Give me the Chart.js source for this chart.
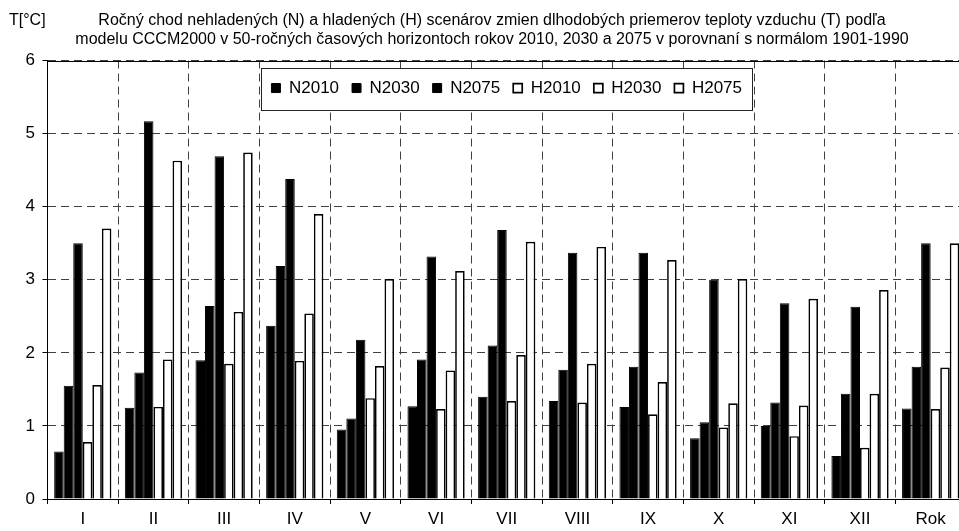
<!DOCTYPE html>
<html>
<head>
<meta charset="utf-8">
<script src="https://cdn.jsdelivr.net/npm/chart.js@4/dist/chart.umd.min.js"></script>
<style>
  html, body { margin: 0; padding: 0; background: #fff; overflow: hidden; }
  #wrap { width: 959px; height: 531px; overflow: hidden; position: relative; }
  canvas { display: block; }
</style>
</head>
<body>
<div id="wrap"><canvas id="c" width="966" height="531"></canvas></div>
<script>
const categories = ['I','II','III','IV','V','VI','VII','VIII','IX','X','XI','XII','Rok'];
const seriesNames = ['N2010','N2030','N2075','H2010','H2030','H2075'];
const N2010 = [0.65,1.25,1.90,2.37,0.95,1.27,1.40,1.34,1.26,0.83,1.00,0.59,1.24];
const N2030 = [1.55,1.73,2.64,3.19,1.10,1.91,2.10,1.77,1.81,1.05,1.32,1.44,1.81];
const N2075 = [3.50,5.17,4.69,4.38,2.18,3.32,3.68,3.37,3.37,3.00,2.68,2.63,3.50];
const H2010 = [0.78,1.26,1.85,1.89,1.38,1.23,1.34,1.32,1.16,0.98,0.86,0.70,1.23];
const H2030 = [1.56,1.91,2.56,2.54,1.82,1.76,1.97,1.85,1.60,1.31,1.28,1.44,1.80];
const H2075 = [3.70,4.63,4.74,3.90,3.01,3.12,3.52,3.45,3.27,3.01,2.74,2.86,3.50];
const yTicks = [0,1,2,3,4,5,6];
const titleLines = [
  'Ročný chod nehladených (N) a hladených (H) scenárov zmien dlhodobých priemerov teploty vzduchu (T) podľa',
  'modelu CCCM2000 v 50-ročných časových horizontoch rokov 2010, 2030 a 2075 v porovnaní s normálom 1901-1990'
];
const yUnit = 'T[°C]';

const FONT = '"Liberation Sans", Arial, sans-serif';
const seriesData = [N2010, N2030, N2075, H2010, H2030, H2075];
const datasets = seriesNames.map((name, i) => {
  const filled = name.charAt(0) === 'N';
  return {
    label: name,
    data: seriesData[i],
    backgroundColor: filled ? '#000000' : '#ffffff',
    borderColor: '#000000',
    borderWidth: filled ? 1 : 1.7,
    borderSkipped: 'start',
    categoryPercentage: 0.81,
    barPercentage: 1.0
  };
});

const legendFrame = {
  id: 'legendFrame',
  afterLayout(chart) {
    const lg = chart.legend;
    if (lg) { lg.height = 70; lg.bottom = lg.top + 70; }
  },
  beforeDatasetsDraw(chart) {
    const lg = chart.legend;
    if (!lg || !lg.legendHitBoxes || !lg.legendHitBoxes.length) return;
    const hb = lg.legendHitBoxes;
    let l = Infinity, r = -Infinity, t = Infinity, b = -Infinity;
    hb.forEach(h => { l = Math.min(l, h.left); r = Math.max(r, h.left + h.width); t = Math.min(t, h.top); b = Math.max(b, h.top + h.height); });
    const ctx = chart.ctx;
    ctx.save();
    const x0 = Math.round(l - 10) + 0.5, x1 = Math.round(r + 10) + 0.5;
    const y0 = Math.round(t - 11.5) + 0.5, y1 = Math.round(b + 13.5) + 0.5;
    ctx.fillStyle = '#ffffff';
    ctx.fillRect(x0, y0, x1 - x0, y1 - y0);
    ctx.strokeStyle = '#222222';
    ctx.lineWidth = 1;
    ctx.strokeRect(x0, y0, x1 - x0, y1 - y0);
    ctx.restore();
    lg.draw();
  },
  afterDraw(chart) {
    const ctx = chart.ctx;
    const ca = chart.chartArea;
    ctx.save();
    ctx.strokeStyle = '#000';
    ctx.lineWidth = 1;
    ctx.beginPath();
    ctx.moveTo(ca.left, Math.round(ca.top) + 0.5);
    ctx.lineTo(ca.right, Math.round(ca.top) + 0.5);
    ctx.stroke();
    ctx.fillStyle = '#000';
    ctx.font = '16px ' + FONT;
    ctx.textBaseline = 'middle';
    ctx.textAlign = 'left';
    const t = chart.titleBlock;
    const lh = t ? t.options.font.size * t.options.font.lineHeight : 19.5;
    const y = t ? t.top + t.options.padding.top + lh / 2 : 20;
    ctx.fillText(yUnit, 9, y);
    ctx.restore();
  }
};

new Chart(document.getElementById('c'), {
  type: 'bar',
  data: { labels: categories, datasets },
  options: {
    responsive: false,
    animation: false,
    devicePixelRatio: 1,
    layout: { padding: { left: 18, right: 0, top: 0, bottom: 0 } },
    plugins: {
      title: {
        display: true,
        text: titleLines,
        color: '#000',
        font: { family: FONT, size: 16, weight: 'normal', lineHeight: 1.22 },
        padding: { top: 10.7, bottom: 9.8 }
      },
      legend: {
        display: true,
        position: 'top',
        align: 'center',
        fullSize: false,
        maxHeight: 1,
        title: { display: true, text: '', font: { family: FONT, size: 7, lineHeight: 1 }, padding: 0 },
        labels: {
          color: '#000',
          font: { family: FONT, size: 17 },
          boxWidth: 9,
          boxHeight: 9,
          padding: 13
        }
      },
      tooltip: { enabled: false }
    },
    scales: {
      x: {
        offset: true,
        afterFit(scale) { scale.height = 32; },
        grid: {
          display: true,
          offset: true,
          color: '#404040',
          lineWidth: 1,
          drawTicks: true,
          tickLength: 5,
          tickColor: '#000'
        },
        border: { display: true, color: '#000', width: 1, dash: [8, 5] },
        ticks: { color: '#000', font: { family: FONT, size: 17 }, padding: 5.5, maxRotation: 0, autoSkip: false }
      },
      y: {
        min: 0,
        max: 6,
        afterBuildTicks(scale) { scale.ticks = yTicks.map(v => ({ value: v })); },
        grid: {
          color: '#404040',
          lineWidth: 1,
          drawTicks: true,
          tickLength: 5,
          tickColor: '#000'
        },
        border: { display: true, color: '#000', width: 1, dash: [8, 5] },
        ticks: { color: '#000', font: { family: FONT, size: 17 }, padding: 7.5, stepSize: 1 }
      }
    }
  },
  plugins: [legendFrame]
});
</script>
</body>
</html>
